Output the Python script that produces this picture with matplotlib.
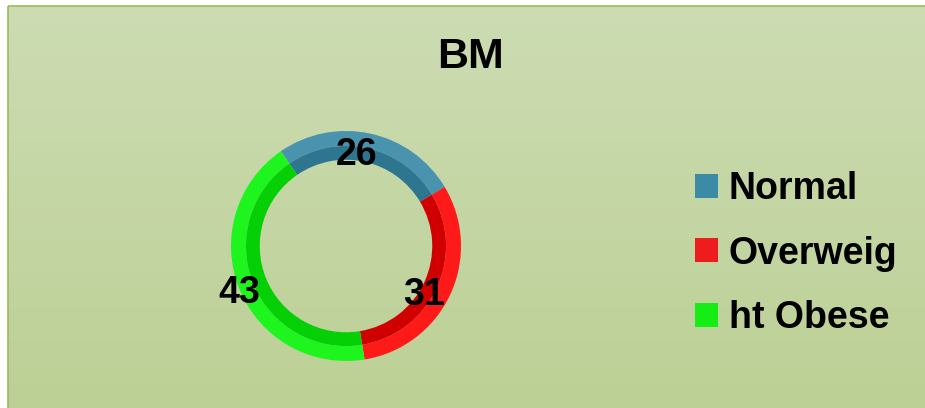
import matplotlib.pyplot as plt
import numpy as np
from matplotlib.patches import Patch, Rectangle

# Дані діаграми
categories = ["Normal", "Overweig", "ht Obese"]
values = [26, 31, 43]
title = "BM"

# Кольори: зовнішня (світліша) та внутрішня (темніша) смуга кільця
outer_colors = ["#4a93ae", "#ff1a1a", "#1ef51e"]
inner_colors = ["#2e7690", "#d00000", "#05cf05"]
legend_colors = ["#3d8aa6", "#ee1c1c", "#14ee14"]

plt.rcParams['font.family'] = ['Liberation Sans', 'DejaVu Sans']

fig = plt.figure(figsize=(9.25, 4.08), dpi=100)

# Фон з градієнтом та рамкою
bg = fig.add_axes([0, 0, 1, 1])
bg.set_xlim(0, 925)
bg.set_ylim(408, 0)
bg.axis('off')
grad = np.linspace(0, 1, 256).reshape(-1, 1)
top = np.array([205, 220, 179]) / 255
bottom = np.array([188, 208, 149]) / 255
img = top + (bottom - top) * grad[:, :, None]
bg.imshow(img, extent=[8, 925, 408, 6], aspect='auto', zorder=0)
bg.add_patch(Rectangle((8, 6), 930, 410, fill=False, edgecolor="#9bbb59", linewidth=1.2, zorder=1))

# Кільцева діаграма
ax = fig.add_axes([(346 - 130) / 925, (408 - 246 - 130) / 408, 260 / 925, 260 / 408])

start = 124.5
wedges, _ = ax.pie(values, radius=1.0, startangle=start, counterclock=False,
                   colors=outer_colors, wedgeprops=dict(width=0.13, linewidth=0))
ax.pie(values, radius=0.87, startangle=start, counterclock=False,
       colors=inner_colors, wedgeprops=dict(width=0.12, linewidth=0))

# Межі після pie(), бо pie() їх перезаписує
ax.axis('off')
lim = 130 / 115
ax.set_xlim(-lim, lim)
ax.set_ylim(-lim, lim)
ax.set_aspect('equal')

# Підписи значень
label_r = [0.82, 0.79, 1.0]
label_dt = [6.0, -5.6, 0.6]
for w, v, r, dt in zip(wedges, values, label_r, label_dt):
    mid = np.deg2rad((w.theta1 + w.theta2) / 2 + dt)
    ax.text(r * np.cos(mid), r * np.sin(mid) - 0.026, str(v), ha='center', va='center',
            fontsize=27, fontweight='bold', color='black')

fig.text(470 / 925, 1 - 57 / 408, title, ha='center', va='center',
         fontsize=31, fontweight='bold')

handles = [Patch(facecolor=c, edgecolor='none') for c in legend_colors]
fig.legend(handles, categories, loc='upper left', bbox_to_anchor=(695 / 925, 1 - 171 / 408),
           frameon=False, prop=dict(weight='bold', size=27),
           handlelength=0.6, handleheight=0.6, handletextpad=0.3, labelspacing=0.76,
           borderpad=0, borderaxespad=0)

fig.savefig("out.png", dpi=100)
